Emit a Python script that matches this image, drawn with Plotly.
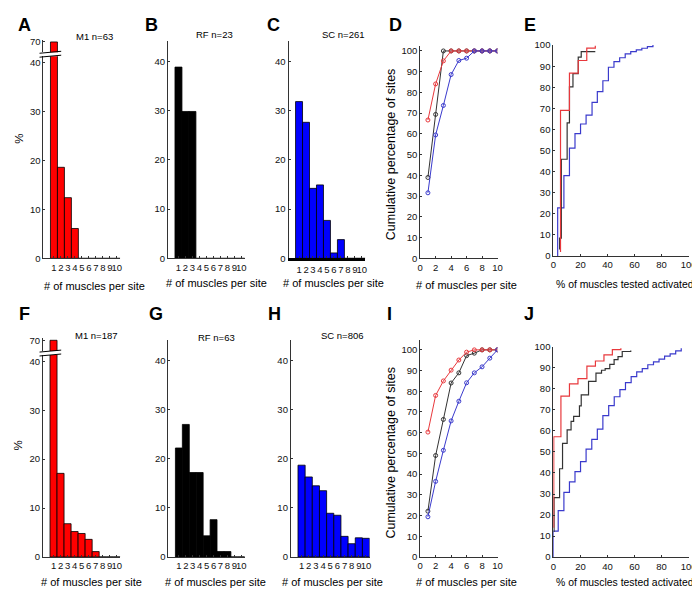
import plotly.graph_objects as go

W, H = 700, 589

# ---------------- data ----------------
bins = list(range(1, 11))
bin_labels = [str(b) for b in bins]

m1_a = [70, 18.6, 12.4, 6.1, 0, 0, 0, 0, 0, 0]
rf_b = [38.8, 29.8, 29.8, 0, 0, 0, 0, 0, 0, 0]
sc_c = [31.8, 27.6, 14.2, 14.9, 7.7, 1.1, 3.8, 0, 0, 0]
m1_f = [70, 17.1, 6.8, 5.2, 4.8, 3.6, 1.1, 0, 0, 0]
rf_g = [22.2, 27.0, 17.2, 17.2, 4.3, 7.6, 1.1, 1.1, 0, 0]
sc_h = [18.7, 16.3, 14.5, 13.5, 8.9, 8.5, 4.2, 2.7, 3.9, 3.8]

cum_x = list(range(1, 11))
cum_d_m1 = [66.7, 84.1, 95.2, 100, 100, 100, 100, 100, 100, 100]
cum_d_rf = [39.0, 69.4, 100, 100, 100, 100, 100, 100, 100, 100]
cum_d_sc = [31.6, 59.5, 73.7, 88.6, 95.4, 96.5, 100, 100, 100, 100]
cum_i_m1 = [60.3, 78.0, 85.0, 90.2, 95.1, 98.9, 100, 100, 100, 100]
cum_i_rf = [22.1, 49.0, 66.4, 84.0, 88.9, 97.2, 98.4, 100, 100, 100]
cum_i_sc = [19.4, 36.5, 51.5, 65.7, 75.2, 84.1, 88.9, 91.8, 96.0, 100]

e_m1_x = [5.3, 5.3, 11.9, 18.4, 24.7, 31.0]
e_m1_y = [1.9, 69.1, 86.7, 92.7, 98.6, 99.7]
e_rf_x = [4.6, 4.6, 5.9, 10.2, 11.9, 14.5, 18.4, 20.6, 31.0]
e_rf_y = [3.1, 8.5, 45.9, 63.1, 80.2, 86.5, 94.3, 96.9, 96.9]
e_sc_x = [3.2, 3.2, 7.8, 11.9, 16.0, 20.1, 24.2, 28.6, 32.5, 36.6, 40.7, 44.8,
          49.0, 53.1, 57.2, 61.3, 65.4, 69.5, 73.6]
e_sc_y = [0, 22.9, 38.1, 51.2, 58.0, 62.6, 66.8, 72.9, 78.0, 83.1, 89.5, 92.2,
          94.0, 95.8, 96.9, 97.7, 98.5, 99.3, 100]

j_m1_x = [0.3, 0.3, 5.6, 11.9, 18.2, 24.8, 31.1, 37.4, 43.6, 49.9]
j_m1_y = [14, 57.2, 76.5, 82.3, 84.8, 90.8, 93.2, 96.1, 98.6, 99.2]
j_rf_x = [0.5, 0.5, 4.6, 6.8, 10.2, 13.1, 15.0, 19.3, 20.6, 26.0, 31.5, 35.6,
          38.3, 41.7, 44.9, 47.8, 50.9, 57.2]
j_rf_y = [12, 28.3, 42.0, 54.1, 60.5, 64.5, 66.9, 71.9, 77.1, 83.5, 87.4, 88.8,
          89.6, 91.6, 93.8, 95.3, 97.7, 98.2]
j_sc_x = [0, 0, 3.6, 7.8, 11.9, 16.0, 20.1, 24.2, 28.4, 32.5, 36.6, 40.9, 45.0,
          49.2, 53.3, 57.5, 61.6, 65.7, 69.8, 74.0, 78.1, 82.2, 86.3, 90.4, 94.5]
j_sc_y = [0, 12.4, 22.1, 30.8, 35.8, 40.6, 45.4, 51.3, 56.0, 60.8, 67.2, 72.0,
          76.2, 79.6, 82.9, 85.8, 88.0, 89.6, 91.4, 92.8, 94.1, 95.5, 96.6, 98.0, 99.2]

# ---------------- helpers ----------------
FONT = "Liberation Sans, Arial, sans-serif"
RED_BAR, BLUE_BAR, BLACK_BAR = "#ff0000", "#0000ff", "#000000"
RED_L, BLACK_L, BLUE_L = "#e8383c", "#333333", "#3a3acc"


def xd(a, b):
    return [a / W, b / W]


def yd(top, bottom):
    return [1 - bottom / H, 1 - top / H]


fig = go.Figure()
layout = dict(width=W, height=H, margin=dict(l=0, r=0, t=0, b=0),
              paper_bgcolor="white", plot_bgcolor="white", showlegend=False,
              font=dict(family=FONT, size=10, color="#111"))

axcommon = dict(showline=True, linecolor="#333", linewidth=1, showgrid=False,
                zeroline=False, ticks="inside", ticklen=2, tickcolor="#333",
                tickfont=dict(size=9.5, family=FONT, color="#111"))


def set_x(n, dom, rng, anchor, tickvals, ticktext, **kw):
    key = "xaxis" if n == 1 else f"xaxis{n}"
    d = dict(axcommon, domain=dom, range=rng, anchor=anchor, tickangle=0,
             tickvals=tickvals, ticktext=ticktext, fixedrange=True)
    d.update(kw)
    layout[key] = d


def set_y(n, dom, rng, anchor, tickvals, **kw):
    key = "yaxis" if n == 1 else f"yaxis{n}"
    d = dict(axcommon, domain=dom, range=rng, anchor=anchor,
             tickvals=tickvals, fixedrange=True)
    d.update(kw)
    layout[key] = d


def ref(n, c):
    return c if n == 1 else f"{c}{n}"


def bar(xn, yn, vals, color):
    fig.add_trace(go.Bar(x=bins, y=vals, width=1, xaxis=ref(xn, "x"), yaxis=ref(yn, "y"),
                         marker=dict(color=color, line=dict(color="#000", width=0.8)),
                         hoverinfo="skip"))


def cum(xn, yn, vals, color):
    fig.add_trace(go.Scatter(x=cum_x, y=vals, mode="lines+markers", xaxis=ref(xn, "x"),
                             yaxis=ref(yn, "y"), line=dict(color=color, width=1),
                             marker=dict(symbol="circle-open", size=4,
                                         line=dict(color=color, width=1)),
                             hoverinfo="skip"))


def stairs(xn, yn, xs, ys, color):
    fig.add_trace(go.Scatter(x=xs, y=ys, mode="lines", line_shape="hv", xaxis=ref(xn, "x"),
                             yaxis=ref(yn, "y"), line=dict(color=color, width=1.2),
                             hoverinfo="skip"))


HR = [-0.5, 10.5]
hist_yt = [0, 10, 20, 30, 40]
hist_xfont = dict(size=9.5, family=FONT, color="#111")

# Row 1 ---------------------------------------------------------------
# A (broken axis)
set_x(1, xd(33, 111), HR, "y", bins, bin_labels, tickfont=hist_xfont)
set_y(1, yd(43, 249), [0, 41.3], "x", hist_yt)
set_y(2, yd(26.5, 39), [67.9, 70.4], "x", [70], showline=True)
bar(1, 1, m1_a, RED_BAR)
bar(1, 2, m1_a, RED_BAR)
# B
set_x(2, xd(159.5, 237.5), HR, "y3", bins, bin_labels, tickfont=hist_xfont)
set_y(3, yd(28, 249), [0, 44], "x2", hist_yt)
bar(2, 3, rf_b, BLACK_BAR)
# C
set_x(3, xd(282, 360), HR, "y4", bins, bin_labels, tickfont=hist_xfont,
      linewidth=3, linecolor="#000")
set_y(4, yd(28, 249), [0, 44], "x3", hist_yt)
bar(3, 4, sc_c, BLUE_BAR)
# D
set_x(4, xd(415.7, 494.3), [0, 10], "y5", [0, 2, 4, 6, 8, 10], None)
set_y(5, yd(33, 249), [0, 102.2], "x4", list(range(0, 101, 10)))
cum(4, 5, cum_d_rf, BLACK_L)
cum(4, 5, cum_d_m1, RED_L)
cum(4, 5, cum_d_sc, BLUE_L)
# E
set_x(5, xd(551, 688.5), [0, 100], "y6", [0, 20, 40, 60, 80, 100], None)
set_y(6, yd(31.7, 246.7), [0, 100], "x5", list(range(0, 101, 10)))
stairs(5, 6, e_sc_x, e_sc_y, BLUE_L)
stairs(5, 6, e_rf_x, e_rf_y, BLACK_L)
stairs(5, 6, e_m1_x, e_m1_y, RED_L)

# Row 2 ---------------------------------------------------------------
# F (broken axis)
set_x(6, xd(32.5, 111), HR, "y7", bins, bin_labels, tickfont=hist_xfont)
set_y(7, yd(347.5, 553.3), [0, 41.3], "x6", hist_yt)
set_y(8, yd(330.5, 343.5), [67.8, 70.4], "x6", [70])
bar(6, 7, m1_f, RED_BAR)
bar(6, 8, m1_f, RED_BAR)
# G
set_x(7, xd(160, 237.5), HR, "y9", bins, bin_labels, tickfont=hist_xfont)
set_y(9, yd(331.7, 553.3), [0, 44.3], "x7", hist_yt)
bar(7, 9, rf_g, BLACK_BAR)
# H
set_x(8, xd(284.3, 364.3), HR, "y10", bins, bin_labels, tickfont=hist_xfont)
set_y(10, yd(331.7, 553.3), [0, 44.3], "x8", hist_yt)
bar(8, 10, sc_h, BLUE_BAR)
# I
set_x(9, xd(415.7, 494.3), [0, 10], "y11", [0, 2, 4, 6, 8, 10], None)
set_y(11, yd(331.7, 553.3), [0, 105], "x9", list(range(0, 101, 10)))
cum(9, 11, cum_i_rf, BLACK_L)
cum(9, 11, cum_i_m1, RED_L)
cum(9, 11, cum_i_sc, BLUE_L)
# J
set_x(10, xd(551, 688.5), [0, 100], "y12", [0, 20, 40, 60, 80, 100], None)
set_y(12, yd(339, 553.5), [0, 100], "x10", list(range(0, 101, 10)))
stairs(10, 12, j_sc_x, j_sc_y, BLUE_L)
stairs(10, 12, j_rf_x, j_rf_y, BLACK_L)
stairs(10, 12, j_m1_x, j_m1_y, RED_L)

# ---------------- annotations ----------------
ann = []


def txt(x, y, s, size, bold=False, angle=0):
    ann.append(dict(x=x / W, y=1 - y / H, xref="paper", yref="paper", text=(f"<b>{s}</b>" if bold else s),
                    showarrow=False, xanchor="center", yanchor="middle", textangle=angle,
                    font=dict(family=FONT, size=size, color="#000")))


for s, x, y in [("A", 14, 11), ("B", 143, 11), ("C", 267, 11), ("D", 391, 11), ("E", 527, 11),
                ("F", 14, 306), ("G", 147, 306), ("H", 268, 306), ("I", 385, 306), ("J", 526, 306)]:
    txt(x, y, s, 18, bold=True)

for s, x, y in [("M1 n=63", 85, 23.3), ("RF n=23", 207, 20.7), ("SC n=261", 338, 20.7),
                ("M1 n=187", 86.7, 327.3), ("RF n=63", 209, 329.3), ("SC n=806", 337.3, 327.3)]:
    txt(x, y, s, 9.5)

for x, y in [(85, 277), (208.3, 274), (328, 274), (463, 276),
             (81.7, 579), (208, 579), (326.7, 579), (463, 579)]:
    txt(x, y, "# of muscles per site", 11)
for x, y in [(624, 276), (624, 579)]:
    txt(x, y, "% of muscles tested activated", 10.4)
for x, y in [(7.3, 127), (6.7, 440)]:
    txt(x, y, "%", 11.5, angle=-90)
for x, y in [(386, 143), (386, 447)]:
    txt(x, y, "Cumulative percentage of sites", 12.5, angle=-90)

layout["annotations"] = ann

# break marks on the broken axes
shapes = []
for (yb, yt) in [(43, 39), (347.5, 343.5)]:
    for yy in (yb, yt):
        shapes.append(dict(type="line", xref="paper", yref="paper",
                           x0=29 / W, x1=51 / W, y0=1 - (yy + 1) / H, y1=1 - (yy - 1) / H,
                           line=dict(color="#000", width=1)))
layout["shapes"] = shapes

fig.update_layout(**layout)
fig.write_html("out.html")
